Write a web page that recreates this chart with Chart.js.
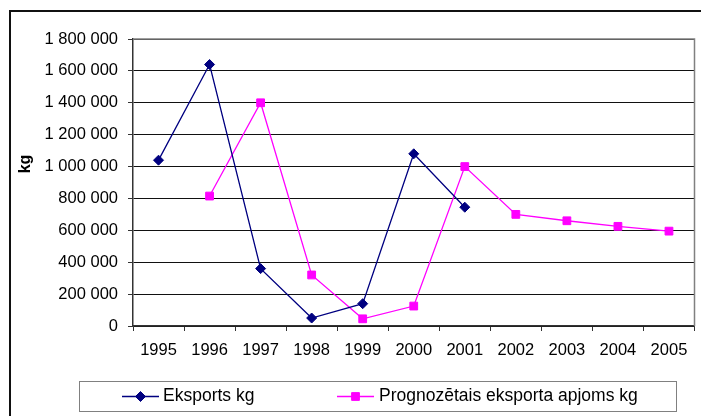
<!DOCTYPE html>
<html>
<head>
<meta charset="utf-8">
<script src="https://cdn.jsdelivr.net/npm/chart.js@4.4.0/dist/chart.umd.min.js"></script>
<style>
    html, body { margin: 0; padding: 0; background: #fff; }
    canvas { display: block; }
</style>
</head>
<body>
<canvas id="exportChart" width="701" height="416"></canvas>
<script>
const years = ['1995', '1996', '1997', '1998', '1999', '2000', '2001', '2002', '2003', '2004', '2005'];
const eksports = [1040000, 1640000, 360000, 50000, 140000, 1080000, 745000, null, null, null, null];
const prognoze = [null, 815000, 1400000, 320000, 45000, 125000, 1000000, 700000, 660000, 625000, 595000];
const yTicks = [0, 200000, 400000, 600000, 800000, 1000000, 1200000, 1400000, 1600000, 1800000];
const yTitle = 'kg';

const FONT = "'Liberation Sans', Arial, sans-serif";

function formatKg(v) {
    return v.toString().replace(/\B(?=(\d{3})+(?!\d))/g, ' ');
}

// frame, plot border, axis title and the boxed legend, Excel style
const excelDecor = {
    id: 'excelDecor',
    beforeDraw(chart) {
        const ctx = chart.ctx;
        ctx.save();
        ctx.fillStyle = '#fff';
        ctx.fillRect(0, 0, chart.width, chart.height);
        ctx.strokeStyle = '#111';
        ctx.lineWidth = 2;
        ctx.beginPath();
        ctx.moveTo(10, chart.height + 5);
        ctx.lineTo(10, 11);
        ctx.lineTo(chart.width + 5, 11);
        ctx.stroke();
        ctx.restore();
    },
    afterDraw(chart) {
        const ctx = chart.ctx;
        const a = chart.chartArea;
        ctx.save();

        // plot area border (top and right)
        ctx.strokeStyle = '#808080';
        ctx.lineWidth = 1.5;
        ctx.beginPath();
        ctx.moveTo(a.left, a.top);
        ctx.lineTo(a.right, a.top);
        ctx.lineTo(a.right, a.bottom);
        ctx.stroke();

        // y axis title
        ctx.fillStyle = '#000';
        ctx.font = 'bold 16px ' + FONT;
        ctx.translate(26, 164);
        ctx.rotate(-Math.PI / 2);
        ctx.textAlign = 'center';
        ctx.textBaseline = 'middle';
        ctx.fillText(yTitle, 0, 0);
        ctx.restore();

        // legend
        ctx.save();
        ctx.strokeStyle = '#808080';
        ctx.lineWidth = 1;
        ctx.strokeRect(79.5, 381.5, 597, 30);
        const items = [{ x: 122, textX: 163 }, { x: 337, textX: 379 }];
        const ly = 396.5;
        chart.data.datasets.forEach((ds, i) => {
            const it = items[i];
            ctx.strokeStyle = ds.borderColor;
            ctx.fillStyle = ds.backgroundColor;
            ctx.lineWidth = 1.3;
            ctx.beginPath();
            ctx.moveTo(it.x, ly);
            ctx.lineTo(it.x + 37, ly);
            ctx.stroke();
            ctx.lineWidth = 1;
            Chart.helpers.drawPoint(ctx, {
                pointStyle: ds.pointStyle,
                radius: ds.pointRadius,
                borderWidth: 1,
                rotation: 0
            }, it.x + 18.5, ly);
            ctx.fillStyle = '#000';
            ctx.font = '17.5px ' + FONT;
            ctx.textAlign = 'left';
            ctx.textBaseline = 'middle';
            ctx.fillText(ds.label, it.textX, ly);
        });
        ctx.restore();
    }
};

const ctx = document.getElementById('exportChart').getContext('2d');
new Chart(ctx, {
    type: 'line',
    data: {
        labels: years,
        datasets: [{
            label: 'Eksports kg',
            data: eksports,
            borderColor: '#000080',
            backgroundColor: '#000080',
            borderWidth: 1.3,
            pointStyle: 'rectRot',
            pointRadius: 5,
            pointBorderWidth: 1,
            tension: 0,
            spanGaps: false
        }, {
            label: 'Prognozētais eksporta apjoms kg',
            data: prognoze,
            borderColor: '#FF00FF',
            backgroundColor: '#FF00FF',
            borderWidth: 1.3,
            pointStyle: 'rect',
            pointRadius: 5.5,
            pointBorderWidth: 1,
            tension: 0,
            spanGaps: false
        }]
    },
    options: {
        responsive: false,
        animation: false,
        devicePixelRatio: 1,
        layout: { padding: { top: 39, right: 4, bottom: 0, left: 0 } },
        plugins: {
            legend: { display: false },
            tooltip: { enabled: false }
        },
        scales: {
            x: {
                offset: true,
                afterFit: s => { s.height = 90; },
                grid: {
                    offset: true,
                    drawOnChartArea: false,
                    drawTicks: true,
                    tickLength: 5,
                    color: '#333'
                },
                border: { color: '#333', width: 1.5 },
                ticks: {
                    color: '#000',
                    font: { family: FONT, size: 16.5 },
                    padding: 10,
                    maxRotation: 0,
                    autoSkip: false
                }
            },
            y: {
                min: 0,
                max: 1800000,
                afterFit: s => { s.width = 133; },
                afterBuildTicks: s => { s.ticks = yTicks.map(v => ({ value: v })); },
                grid: {
                    color: '#111',
                    lineWidth: 1,
                    drawTicks: true,
                    tickLength: 5,
                    tickColor: '#333'
                },
                border: { color: '#333', width: 1.5 },
                ticks: {
                    color: '#000',
                    font: { family: FONT, size: 16.5 },
                    padding: 10,
                    callback: v => formatKg(v)
                }
            }
        }
    },
    plugins: [excelDecor]
});
</script>
</body>
</html>
